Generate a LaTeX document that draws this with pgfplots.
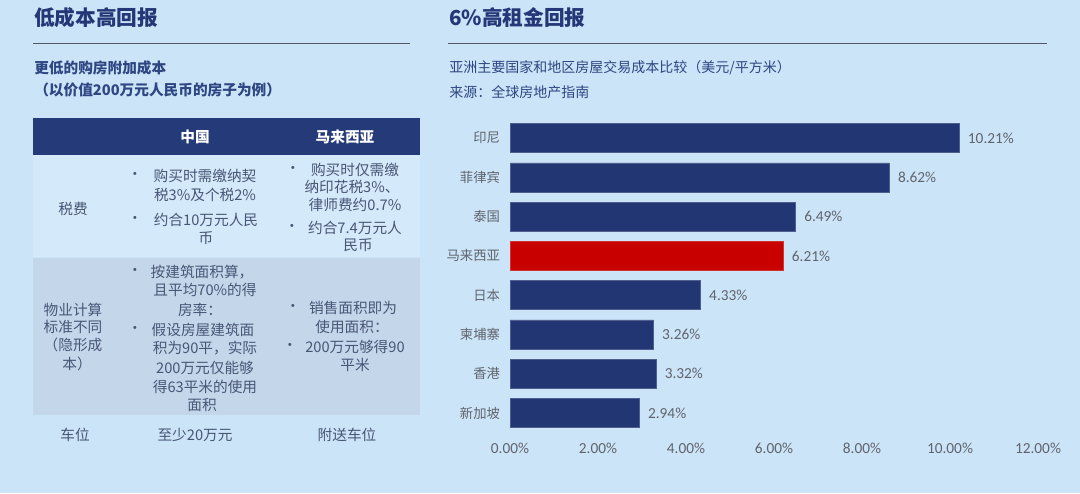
\documentclass[border=0pt]{standalone}
\usepackage{fontspec}
\setmainfont{Noto Sans CJK SC}
\newfontfamily\lat{Carlito}
\usepackage{pgfplots}
\pgfplotsset{compat=1.18}
\definecolor{bg}{RGB}{204,228,247}
\definecolor{rowa}{RGB}{212,233,249}
\definecolor{rowb}{RGB}{196,214,234}
\definecolor{hdr}{RGB}{37,58,120}
\definecolor{titlec}{RGB}{36,56,120}
\definecolor{subc}{RGB}{46,70,130}
\definecolor{txtc}{RGB}{72,86,118}
\definecolor{linec}{RGB}{80,88,104}
\definecolor{navy}{RGB}{34,54,115}
\definecolor{redbar}{RGB}{200,0,0}
\definecolor{tickc}{RGB}{95,100,110}
\newcommand\tf{\fontsize{11}{13}\selectfont}
\begin{document}
\begin{tikzpicture}
\begin{scope}[x=0.75pt,y=-0.75pt]
\fill[bg] (0,0) rectangle (1080,493);
% left titles
\node[anchor=west,inner sep=0,text=titlec,font=\fontsize{15.5}{17}\selectfont\bfseries] at (34,18) {低成本高回报};
\draw[linec,line width=0.6pt] (33,43) -- (410,43);
\node[anchor=west,inner sep=0,text=subc,font=\fontsize{11}{13}\selectfont\bfseries] at (34,68) {更低的购房附加成本};
\node[anchor=west,inner sep=0,text=subc,font=\fontsize{11}{13}\selectfont\bfseries] at (34,90) {（以价值200万元人民币的房子为例）};
% right titles
\node[anchor=west,inner sep=0,text=titlec,font=\fontsize{15.5}{17}\selectfont\bfseries] at (449,18) {6\%高租金回报};
\draw[linec,line width=0.6pt] (448,43) -- (1047,43);
\node[anchor=west,inner sep=0,text=subc,font=\fontsize{10.5}{12}\selectfont] at (449,68) {亚洲主要国家和地区房屋交易成本比较（美元/平方米）};
\node[anchor=west,inner sep=0,text=subc,font=\fontsize{10.5}{12}\selectfont] at (449,92) {来源：全球房地产指南};
% table
\fill[hdr] (33,118) rectangle (420,155);
\fill[rowa] (33,155) rectangle (420,257);
\fill[rowb] (33,258) rectangle (420,415);
\node[text=white,font=\tf\bfseries] at (195,137) {中国};
\node[text=white,font=\tf\bfseries] at (345,137) {马来西亚};
\begin{scope}[every node/.style={text=txtc,font=\tf,inner sep=0}]
% row 1
\node at (73,209) {税费};
\node at (135,176) {•};
\node at (205,176) {购买时需缴纳契};
\node at (205,195) {税3\%及个税2\%};
\node at (135,220) {•};
\node at (206,220) {约合10万元人民};
\node at (206,238) {币};
\node at (293,170) {•};
\node at (355,170) {购买时仅需缴};
\node at (352,187) {纳印花税3\%、};
\node at (355,205) {律师费约0.7\%};
\node at (292,228) {•};
\node at (355,228) {约合7.4万元人};
\node at (358,245) {民币};
% row 2
\node at (73,310) {物业计算};
\node at (73,327) {标准不同};
\node at (73,345) {（隐形成};
\node at (77,364) {本）};
\node at (135,272) {•};
\node at (202,272) {按建筑面积算，};
\node at (205,290) {且平均70\%的得};
\node at (200,310) {房率：};
\node at (135,330) {•};
\node at (203,330) {假设房屋建筑面};
\node at (205,348) {积为90平，实际};
\node at (205,368) {200万元仅能够};
\node at (205,387) {得63平米的使用};
\node at (202,405) {面积};
\node at (293,308) {•};
\node at (353,308) {销售面积即为};
\node at (352,327) {使用面积：};
\node at (290,347) {•};
\node at (355,347) {200万元够得90};
\node at (355,365) {平米};
% row 3
\node at (75,435) {车位};
\node at (195,435) {至少20万元};
\node at (347,435) {附送车位};
\end{scope}
\end{scope}
\begin{axis}[
  at={(382.5pt,-324.5pt)}, anchor=south west,
  scale only axis, width=396pt, height=235.7pt,
  xmin=0, xmax=12, ymin=-0.5, ymax=7.5, y dir=reverse,
  xbar, bar width=21.75pt, bar shift=0pt,
  axis line style={draw=none}, major tick length=0pt,
  xtick={0,2,4,6,8,10,12},
  /pgf/number format/assume math mode=true,
  xticklabel={\pgfmathprintnumber[fixed,fixed zerofill,precision=2]{\tick}\%},
  xticklabel style={font=\lat\fontsize{11.5}{13}\selectfont, text=tickc, yshift=-4pt},
  ytick={0,1,2,3,4,5,6,7},
  yticklabels={印尼,菲律宾,泰国,马来西亚,日本,柬埔寨,香港,新加坡},
  yticklabel style={font=\fontsize{10}{12}\selectfont, text=tickc, xshift=-4pt},
  nodes near coords={\pgfmathprintnumber[fixed,fixed zerofill,precision=2]{\pgfplotspointmeta}\%},
  nodes near coords style={font=\lat\fontsize{11.5}{13}\selectfont, text=tickc, xshift=3pt},
]
\addplot[fill=navy, draw=navy!80!white] coordinates {(10.21,0) (8.62,1) (6.49,2) (4.33,4) (3.26,5) (3.32,6) (2.94,7)};
\addplot[fill=redbar, draw=redbar!80!white] coordinates {(6.21,3)};
\end{axis}
\end{tikzpicture}
\end{document}
